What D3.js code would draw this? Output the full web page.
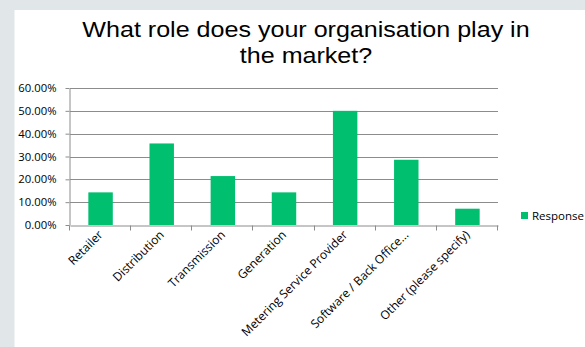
<!DOCTYPE html>
<html>
<head>
<meta charset="utf-8">
<script src="https://cdn.jsdelivr.net/npm/d3@7"></script>
<style>
  html, body { margin: 0; padding: 0; background: #e1e7e9; overflow: hidden; }
  svg { display: block; }
</style>
</head>
<body>
<svg id="chart" width="585" height="347"></svg>
<script>
// Survey responses: share of organisations in each market role
const categories = ["Retailer", "Distribution", "Transmission", "Generation",
  "Metering Service Provider", "Software / Back Office...", "Other (please specify)"];
const responses = [0.1429, 0.3571, 0.2143, 0.1429, 0.5, 0.2857, 0.0714];
const yTicks = [0, 0.1, 0.2, 0.3, 0.4, 0.5, 0.6];
const titleLines = ["What role does your organisation play in", "the market?"];
const seriesName = "Response";

const svg = d3.select("#chart");
const barColor = "#00bf6f";
const gridColor = "#8c8c8c";
const labelFont = "Open Sans, Liberation Sans, sans-serif";

// white chart panel
svg.append("rect").attr("x", 14.5).attr("y", 10).attr("width", 571).attr("height", 337)
  .attr("fill", "#ffffff");

const plot = { left: 70, right: 498, top: 88, bottom: 225 };

const x = d3.scaleBand().domain(categories).range([plot.left, plot.right]).paddingInner(0.6).paddingOuter(0.3);
const xb = d3.scaleBand().domain(categories).range([plot.left, plot.right]);
const y = d3.scaleLinear().domain([0, 0.6]).range([plot.bottom, plot.top]);

// title (slightly widened face)
svg.append("g").attr("transform", "translate(306,0) scale(1.14,1)")
  .append("text")
  .attr("y", 37.5)
  .attr("text-anchor", "middle")
  .attr("font-family", "Liberation Sans, Arial, sans-serif")
  .attr("font-size", 22)
  .attr("fill", "#000")
  .selectAll("tspan").data(titleLines).join("tspan")
  .attr("x", 0).attr("dy", (d, i) => i === 0 ? 0 : 25.8)
  .text(d => d);

// horizontal gridlines
svg.append("g").selectAll("line").data(yTicks.filter(t => t > 0)).join("line")
  .attr("x1", plot.left).attr("x2", plot.right)
  .attr("y1", d => Math.round(y(d)) + 0.5).attr("y2", d => Math.round(y(d)) + 0.5)
  .attr("stroke", gridColor).attr("stroke-width", 1);

// y axis
const yAxis = svg.append("g")
  .attr("transform", `translate(${plot.left - 0.5},0)`)
  .call(d3.axisLeft(y).tickValues(yTicks).tickFormat(d3.format(".2%")).tickSize(4).tickSizeOuter(0));
yAxis.select(".domain").attr("stroke", gridColor);
yAxis.selectAll(".tick line").attr("stroke", gridColor);
yAxis.selectAll(".tick text")
  .attr("x", -13)
  .attr("font-family", labelFont)
  .attr("font-size", 11.3).attr("fill", "#000");

// bars
svg.append("g").selectAll("rect").data(responses).join("rect")
  .attr("x", (d, i) => x(categories[i]))
  .attr("width", x.bandwidth())
  .attr("y", d => y(d))
  .attr("height", d => y(0) - y(d))
  .attr("fill", barColor);

// x axis
const xAxis = svg.append("g")
  .attr("transform", `translate(0,${Math.round(plot.bottom) + 0.5})`)
  .call(d3.axisBottom(xb).tickSize(0).tickSizeOuter(0));
xAxis.select(".domain").attr("stroke", gridColor);
// category boundary ticks
xAxis.selectAll(".bound").data(d3.range(categories.length + 1)).join("line")
  .attr("class", "bound")
  .attr("x1", i => Math.round(plot.left + i * xb.step()) - 0.5)
  .attr("x2", i => Math.round(plot.left + i * xb.step()) - 0.5)
  .attr("y1", 0).attr("y2", 5)
  .attr("stroke", gridColor);
xAxis.selectAll(".tick text")
  .attr("font-family", labelFont)
  .attr("font-size", 12).attr("fill", "#000")
  .attr("text-anchor", "end")
  .attr("dy", 0).attr("y", 0)
  .attr("transform", "translate(3,10) rotate(-45)");

// legend
const legend = svg.append("g").attr("transform", "translate(521,212)");
legend.append("rect").attr("width", 7).attr("height", 7).attr("fill", barColor);
legend.append("text").attr("x", 11).attr("y", 7.5)
  .attr("font-family", labelFont)
  .attr("font-size", 11.5).attr("fill", "#000")
  .text(seriesName);
</script>
</body>
</html>
